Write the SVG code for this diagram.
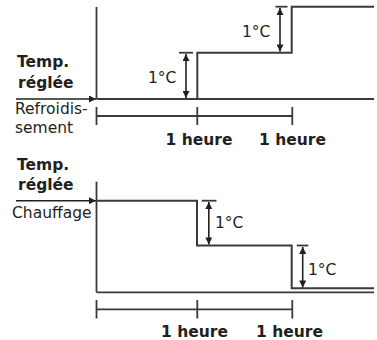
<svg xmlns="http://www.w3.org/2000/svg" width="377" height="340" viewBox="0 0 377 340">
<style>
.ln{stroke:#3a3a3a;stroke-width:1.8;fill:none}
.sig{stroke:#3a3a3a;stroke-width:2;fill:none}
.arr{stroke:#231f20;stroke-width:1.6;fill:none}
.t{font-family:"DejaVu Sans",sans-serif;fill:#231f20;font-size:15.5px}
.b{font-weight:bold}
</style>
<defs>
<marker id="ah" viewBox="0 0 10 10" refX="10" refY="5" markerUnits="userSpaceOnUse" markerWidth="8" markerHeight="7" orient="auto-start-reverse">
<path d="M0,0 L10,5 L0,10 z" fill="#231f20"/>
</marker>
</defs>
<g id="cooling">
<line class="ln" x1="96.5" y1="7" x2="96.5" y2="99"/>
<path class="sig" d="M96.5 99 H374 M197.3 99 V52.7 H291.7 V6.7 H374"/>
<line class="ln" x1="179" y1="52.7" x2="193" y2="52.7"/>
<line class="ln" x1="275.5" y1="6.7" x2="287.5" y2="6.7"/>
<line class="ln" x1="96.5" y1="116" x2="292.3" y2="116"/>
<line class="ln" x1="96.5" y1="107" x2="96.5" y2="125"/>
<line class="ln" x1="197.3" y1="107" x2="197.3" y2="125"/>
<line class="ln" x1="292.3" y1="107" x2="292.3" y2="125"/>
</g>
<g id="heating">
<line class="ln" x1="96.5" y1="181.7" x2="96.5" y2="292.3"/>
<line class="ln" x1="96.5" y1="292.3" x2="374" y2="292.3"/>
<path class="sig" d="M96.5 200.7 H197 V245.5 H291.7 V288.3 H374"/>
<line class="ln" x1="201.7" y1="200.7" x2="216.5" y2="200.7"/>
<line class="ln" x1="296.7" y1="245.5" x2="308.3" y2="245.5"/>
<line class="ln" x1="96.5" y1="309.3" x2="292.3" y2="309.3"/>
<line class="ln" x1="96.5" y1="300" x2="96.5" y2="318.5"/>
<line class="ln" x1="197.3" y1="300" x2="197.3" y2="318.5"/>
<line class="ln" x1="292.3" y1="300" x2="292.3" y2="318.5"/>
</g>
<g id="connectors">
<line class="arr" x1="16" y1="99" x2="96" y2="99" marker-end="url(#ah)"/>
<line class="arr" x1="16" y1="200.7" x2="96" y2="200.7" marker-end="url(#ah)"/>
<line class="arr" x1="186" y1="54" x2="186" y2="98" marker-start="url(#ah)" marker-end="url(#ah)"/>
<line class="arr" x1="280" y1="8" x2="280" y2="51.5" marker-start="url(#ah)" marker-end="url(#ah)"/>
<line class="arr" x1="208.8" y1="202" x2="208.8" y2="244.5" marker-start="url(#ah)" marker-end="url(#ah)"/>
<line class="arr" x1="302.7" y1="247" x2="302.7" y2="287.5" marker-start="url(#ah)" marker-end="url(#ah)"/>
</g>
<g id="labels">
<text class="t b" x="17" y="67">Temp.</text>
<text class="t b" x="18" y="88">réglée</text>
<text class="t" x="15" y="114">Refroidis-</text>
<text class="t" x="15" y="133">sement</text>
<text class="t" x="148" y="83">1°C</text>
<text class="t" x="242" y="36.5">1°C</text>
<text class="t b" x="199" y="145" text-anchor="middle">1 heure</text>
<text class="t b" x="292.5" y="145" text-anchor="middle">1 heure</text>
<text class="t b" x="17" y="170">Temp.</text>
<text class="t b" x="18" y="190">réglée</text>
<text class="t" x="12" y="218.3">Chauffage</text>
<text class="t" x="215" y="227.5">1°C</text>
<text class="t" x="308" y="275">1°C</text>
<text class="t b" x="194.5" y="336.5" text-anchor="middle">1 heure</text>
<text class="t b" x="289.5" y="336.5" text-anchor="middle">1 heure</text>
</g>
</svg>
